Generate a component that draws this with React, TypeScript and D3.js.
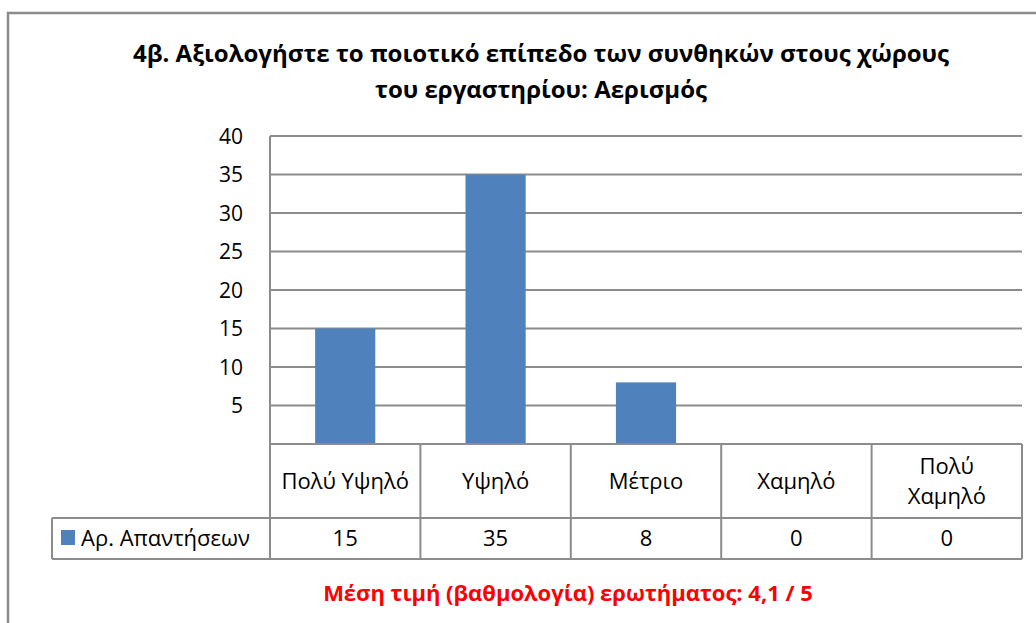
import React from 'react'
import * as d3 from 'd3'

const title = ['4β. Αξιολογήστε το ποιοτικό επίπεδο των συνθηκών στους χώρους', 'του εργαστηρίου: Αερισμός']
const categories = ['Πολύ Υψηλό', 'Υψηλό', 'Μέτριο', 'Χαμηλό', 'Πολύ Χαμηλό']
const categoryLines = [['Πολύ Υψηλό'], ['Υψηλό'], ['Μέτριο'], ['Χαμηλό'], ['Πολύ', 'Χαμηλό']]
const values = [15, 35, 8, 0, 0]
const seriesName = 'Αρ. Απαντήσεων'
const yTicks = [5, 10, 15, 20, 25, 30, 35, 40]
const footer = 'Μέση τιμή (βαθμολογία) ερωτήματος: 4,1 / 5'

const W = 1036, H = 623
const font = '"Open Sans", "DejaVu Sans", sans-serif'
const grid = '#8c8c8c'
const barColor = '#4f81bd'

export default function App() {
    const left = 270, right = 1022, top = 136, bottom = 444
    const headBottom = 518, tableBottom = 559, legendLeft = 52

    const x = d3.scaleBand().domain(categories).range([left, right])
    const y = d3.scaleLinear().domain([0, 40]).range([bottom, top])
    const barW = x.bandwidth() * 0.4
    const bounds = categories.map(c => x(c)).concat([right])

    return (
        <svg width={W} height={H} style={{position: 'absolute', left: 0, top: 0, background: '#fff'}} fontFamily={font}>
            <rect x={8} y={13} width={W} height={H} fill="#fff" stroke={grid} strokeWidth={2.5} />

            {title.map((t, i) => (
                <text key={i} x={541} y={53 + i * 36} dy="0.36em" textAnchor="middle" fontSize={24} fontWeight="bold" fill="#000">{t}</text>
            ))}

            {/* gridlines + y labels */}
            {yTicks.map(t => (
                <g key={t}>
                    <line x1={left} x2={right} y1={y(t)} y2={y(t)} stroke={grid} strokeWidth={2} />
                    <text x={243} y={y(t)} dy="0.36em" textAnchor="end" fontSize={21} fill="#000">{t}</text>
                </g>
            ))}
            <line x1={left} x2={left} y1={top} y2={bottom} stroke={grid} strokeWidth={2} />

            {/* bars */}
            {categories.map((c, i) => (
                values[i] > 0 ? <rect key={c} x={x(c) + (x.bandwidth() - barW) / 2} y={y(values[i])}
                    width={barW} height={y(0) - y(values[i])} fill={barColor} /> : null
            ))}

            {/* data table */}
            <line x1={left} x2={right} y1={bottom} y2={bottom} stroke={grid} strokeWidth={2} />
            <line x1={legendLeft} x2={right} y1={headBottom} y2={headBottom} stroke={grid} strokeWidth={2} />
            <line x1={legendLeft} x2={right} y1={tableBottom} y2={tableBottom} stroke={grid} strokeWidth={2} />
            <line x1={legendLeft} x2={legendLeft} y1={headBottom} y2={tableBottom} stroke={grid} strokeWidth={2} />
            {bounds.map((b, i) => (
                <line key={i} x1={b} x2={b} y1={bottom} y2={tableBottom} stroke={grid} strokeWidth={2} />
            ))}
            {categories.map((c, i) => {
                const lines = categoryLines[i]
                const cy = (bottom + headBottom) / 2
                return (
                    <g key={c}>
                        {lines.map((l, j) => (
                            <text key={j} x={x(c) + x.bandwidth() / 2} y={cy + (j - (lines.length - 1) / 2) * 30}
                                dy="0.36em" textAnchor="middle" fontSize={22} fill="#000">{l}</text>
                        ))}
                        <text x={x(c) + x.bandwidth() / 2} y={(headBottom + tableBottom) / 2} dy="0.36em"
                            textAnchor="middle" fontSize={22} fill="#000">{values[i]}</text>
                    </g>
                )
            })}
            <rect x={61} y={530} width={14} height={15} fill={barColor} />
            <text x={81} y={(headBottom + tableBottom) / 2} dy="0.36em" fontSize={22} fill="#000">{seriesName}</text>

            <text x={568} y={593} dy="0.36em" textAnchor="middle" fontSize={22} fontWeight="bold" fill="#ff0000">{footer}</text>
        </svg>
    )
}
